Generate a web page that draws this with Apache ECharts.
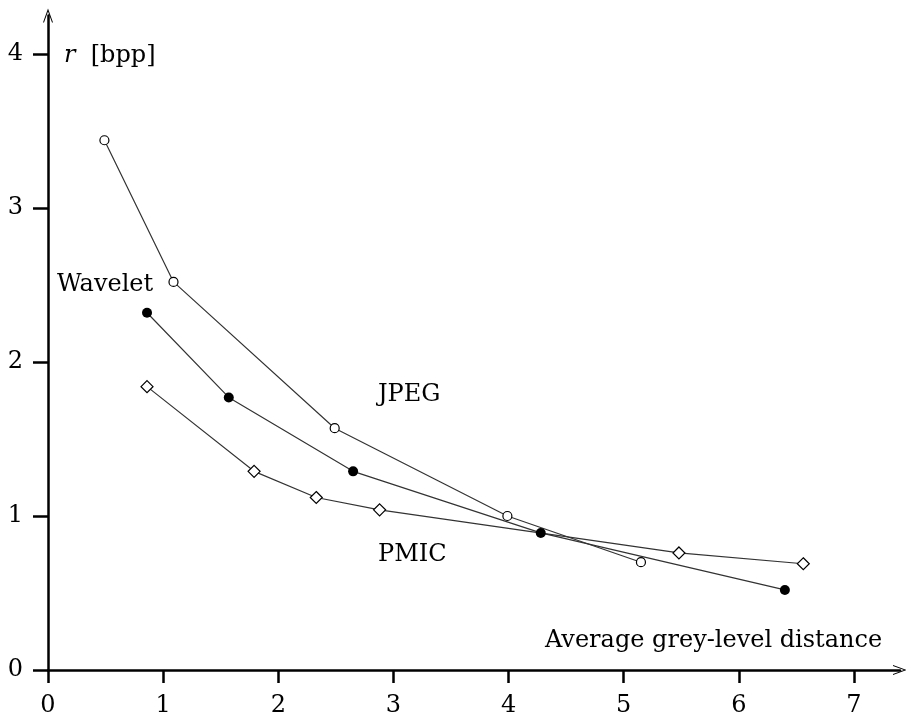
<!DOCTYPE html>
<html>
<head>
<meta charset="utf-8">
<script src="https://cdn.jsdelivr.net/npm/echarts@6/dist/echarts.min.js"></script>
<style>
html, body { margin: 0; padding: 0; background: #fff; }
#chart { width: 906px; height: 714px; }
</style>
</head>
<body>
<div id="chart"></div>
<script>
// 刻度
var xTicks = [0, 1, 2, 3, 4, 5, 6, 7];
var yTicks = [0, 1, 2, 3, 4];

// JPEG（空心圆）
var jpegX = [0.49, 1.09, 2.49, 3.99, 5.15];
var jpegY = [3.44, 2.52, 1.57, 1.00, 0.70];

// Wavelet（实心圆）
var waveletX = [0.86, 1.57, 2.65, 4.28, 6.40];
var waveletY = [2.32, 1.77, 1.29, 0.89, 0.52];

// PMIC（菱形）
var pmicX = [0.86, 1.79, 2.33, 2.88, 5.48, 6.56];
var pmicY = [1.84, 1.29, 1.12, 1.04, 0.76, 0.69];

var FONT = 'DejaVu Serif';
var FS = 24;

function pairs(xs, ys) {
	var out = [];
	for (var i = 0; i < xs.length; i++) {
		out.push([xs[i], ys[i]]);
	}
	return out;
}

// 开口箭头
var arrow = 'path://M5,0 L10,14 L9,14 L5,3 L1,14 L0,14 Z';

var lineCol = '#333';
var font = FS + 'px "' + FONT + '"';

var option = {
	backgroundColor: '#fff',
	animation: false,
	grid: {
		left: 48,
		top: 15.5,
		width: 852,
		height: 654.5,
		outerBoundsMode: 'none',
		containLabel: false
	},
	xAxis: {
		type: 'value',
		min: 0,
		max: 7.4,
		interval: 1,
		axisLine: {
			show: true,
			symbol: ['none', arrow],
			symbolSize: [10, 14],
			lineStyle: { color: '#000', width: 2.5 }
		},
		axisTick: {
			show: true,
			length: 13,
			customValues: xTicks,
			lineStyle: { color: '#000', width: 2.5 }
		},
		axisLabel: {
			margin: 24,
			customValues: xTicks,
			color: '#000',
			fontFamily: FONT,
			fontSize: FS
		},
		splitLine: { show: false }
	},
	yAxis: {
		type: 'value',
		min: 0,
		max: 4.25,
		interval: 1,
		axisLine: {
			show: true,
			symbol: ['none', arrow],
			symbolSize: [10, 14],
			lineStyle: { color: '#000', width: 2.5 }
		},
		axisTick: {
			show: true,
			length: 15,
			customValues: yTicks,
			lineStyle: { color: '#000', width: 2.5 }
		},
		axisLabel: {
			margin: 25,
			customValues: yTicks,
			color: '#000',
			fontFamily: FONT,
			fontSize: FS
		},
		splitLine: { show: false }
	},
	series: [
		{
			name: 'JPEG',
			type: 'line',
			data: pairs(jpegX, jpegY),
			symbol: 'circle',
			symbolSize: 9,
			lineStyle: { color: lineCol, width: 1.2 },
			itemStyle: { color: '#fff', borderColor: '#000', borderWidth: 1.2 },
			z: 3
		},
		{
			name: 'Wavelet',
			type: 'line',
			data: pairs(waveletX, waveletY),
			symbol: 'circle',
			symbolSize: 10,
			lineStyle: { color: lineCol, width: 1.2 },
			itemStyle: { color: '#000', borderColor: '#000', borderWidth: 0 },
			z: 3
		},
		{
			name: 'PMIC',
			type: 'line',
			data: pairs(pmicX, pmicY),
			symbol: 'diamond',
			symbolSize: [12, 12],
			lineStyle: { color: lineCol, width: 1.2 },
			itemStyle: { color: '#fff', borderColor: '#000', borderWidth: 1.2 },
			z: 3
		}
	],
	graphic: [
		{
			type: 'text',
			left: 64,
			top: 44,
			style: {
				text: '{i|r}  [bpp]',
				fill: '#000',
				font: font,
				rich: {
					i: { fontStyle: 'italic', fontFamily: FONT, fontSize: FS }
				}
			}
		},
		{
			type: 'text',
			left: 545,
			top: 629,
			style: { text: 'Average grey-level distance', fill: '#000', font: font }
		},
		{
			type: 'text',
			left: 57,
			top: 273,
			style: { text: 'Wavelet', fill: '#000', font: font }
		},
		{
			type: 'text',
			left: 378,
			top: 383,
			style: { text: 'JPEG', fill: '#000', font: font }
		},
		{
			type: 'text',
			left: 378,
			top: 543,
			style: { text: 'PMIC', fill: '#000', font: font }
		}
	]
};

var chart = echarts.init(document.getElementById('chart'));
chart.setOption(option);
</script>
</body>
</html>
